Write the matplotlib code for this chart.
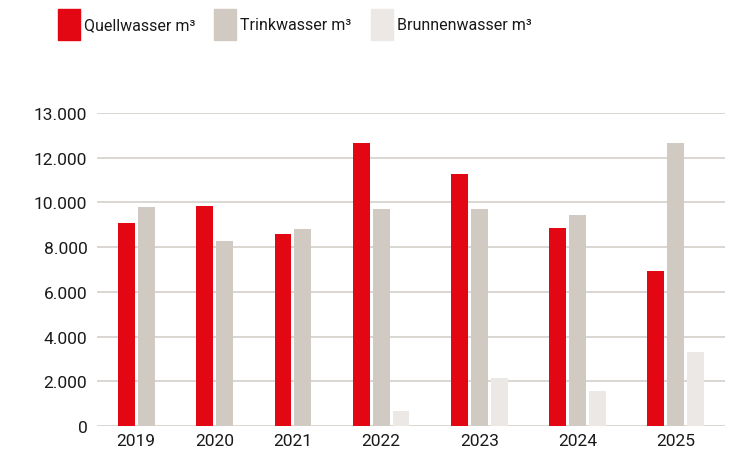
import matplotlib.pyplot as plt
from matplotlib.patches import Rectangle

plt.rcParams['font.family'] = ['Roboto', 'DejaVu Sans']

# data (m³ per year)
years = ['2019', '2020', '2021', '2022', '2023', '2024', '2025']
quellwasser = [9080, 9840, 8590, 12680, 11280, 8860, 6940]
trinkwasser = [9800, 8280, 8810, 9710, 9710, 9440, 12680]
brunnenwasser = [None, None, None, 670, 2150, 1570, 3310]

series_names = ['Quellwasser m³', 'Trinkwasser m³', 'Brunnenwasser m³']
colors = ['#E30613', '#D1CAC3', '#ECE8E5']

y_ticks = [0, 2000, 4000, 6000, 8000, 10000, 12000, 14000]
y_labels = ['0', '2.000', '4.000', '6.000', '8.000', '10.000', '12.000', '13.000']

text_col = '#1a1a1a'
grid_col = '#D8D3CE'

fig = plt.figure(figsize=(7.55, 4.56), dpi=100)
ax = fig.add_axes([0.1285, 0.0636, 0.8315, 0.6864])

# groups only hold the series that have a value, so bars sit tight together
bar_w = 17
bar_step = 20
group_gap = 42
x = group_gap / 2
centers = []
for i in range(len(years)):
    vals = [quellwasser[i], trinkwasser[i], brunnenwasser[i]]
    n = 0
    for j, v in enumerate(vals):
        if v is None:
            continue
        ax.bar(x + n * bar_step, v, width=bar_w, align='edge', color=colors[j],
               zorder=3, linewidth=0)
        n += 1
    width = n * bar_w + (n - 1) * (bar_step - bar_w)
    centers.append(x + width / 2)
    x += width + group_gap

ax.set_xlim(0, x - group_gap / 2)
ax.set_ylim(0, 14000)

ax.set_yticks(y_ticks)
ax.set_yticklabels(y_labels)
ax.set_xticks(centers)
ax.set_xticklabels(years)
ax.tick_params(axis='both', length=0, labelsize=12.5, colors=text_col)
ax.tick_params(axis='y', pad=7)
ax.tick_params(axis='x', pad=5)

ax.grid(axis='y', color=grid_col, linewidth=1.3, zorder=0)
for s in ax.spines.values():
    s.set_visible(False)

# legend drawn by hand at the top
leg_x = [0.0768, 0.2834, 0.4914]
for lx, c, name in zip(leg_x, colors, series_names):
    fig.patches.append(Rectangle((lx, 1 - 41 / 456), 22 / 755, 31 / 456,
                                 transform=fig.transFigure, color=c))
    fig.text(lx + 26 / 755, 1 - 26 / 456, name, fontsize=11.5, color=text_col,
             va='center', ha='left')

fig.savefig('out.png', dpi=100)
